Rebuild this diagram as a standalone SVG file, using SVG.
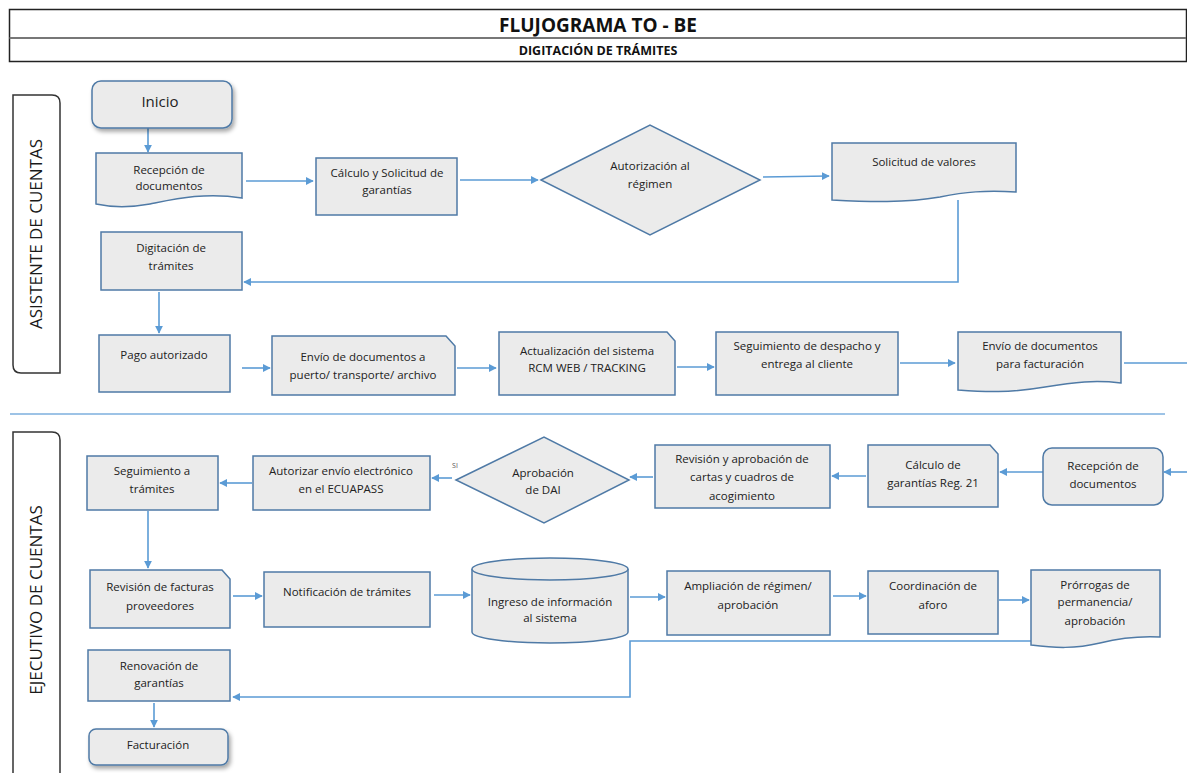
<svg xmlns="http://www.w3.org/2000/svg" width="1187" height="773" viewBox="0 0 1187 773">
  <defs>
    <style>
      .box{fill:#ebebeb;stroke:#4f7aa6;stroke-width:1.5}
      .lane{fill:#fff;stroke:#333;stroke-width:1.5}
      .t{font-family:"Open Sans","Liberation Sans",sans-serif;font-size:11.5px;fill:#222;text-anchor:middle}
      .lt{font-family:"Open Sans","Liberation Sans",sans-serif;font-size:15px;fill:#222;text-anchor:middle}
      .ln{font-family:"Open Sans","Liberation Sans",sans-serif;font-size:17px;fill:#1a1a1a;text-anchor:middle}
      .c{fill:none;stroke:#5b9bd5;stroke-width:1.6}
      .ca{fill:none;stroke:#5b9bd5;stroke-width:1.6;marker-end:url(#ah)}
    </style>
    <marker id="ah" viewBox="0 0 10 10" refX="9" refY="5" markerWidth="5" markerHeight="5" orient="auto">
      <path d="M0,0 L10,5 L0,10 Z" fill="#5b9bd5"/>
    </marker>
    <filter id="sh" x="-10%" y="-10%" width="125%" height="140%">
      <feDropShadow dx="2" dy="3" stdDeviation="2" flood-color="#000" flood-opacity="0.35"/>
    </filter>
  </defs>
  <rect width="1187" height="773" fill="#fff"/>

  <!-- header -->
  <g id="header">
    <rect x="9.5" y="9.5" width="1177" height="52" fill="#fff" stroke="#222" stroke-width="1.5"/>
    <line x1="9.5" y1="38" x2="1186" y2="38" stroke="#777" stroke-width="2"/>
    <text x="598" y="32" font-family="Open Sans,Liberation Sans,sans-serif" font-size="19" font-weight="bold" text-anchor="middle" fill="#111">FLUJOGRAMA TO - BE</text>
    <text x="598" y="55" font-family="Open Sans,Liberation Sans,sans-serif" font-size="12.5" font-weight="bold" text-anchor="middle" fill="#111">DIGITACIÓN DE TRÁMITES</text>
  </g>

  <!-- swimlanes -->
  <g id="lane-asistente">
    <path class="lane" d="M13,95 H52 Q60,95 60,103 V373 H21 Q13,373 13,365 Z"/>
    <text class="ln" transform="translate(42,234) rotate(-90)">ASISTENTE DE CUENTAS</text>
  </g>
  <g id="lane-ejecutivo">
    <path class="lane" d="M13,432 H52 Q60,432 60,440 V775 H13 Z"/>
    <text class="ln" transform="translate(42,600) rotate(-90)">EJECUTIVO DE CUENTAS</text>
  </g>
  <line x1="10" y1="414" x2="1165" y2="414" stroke="#9dc3e6" stroke-width="2"/>

  <!-- connectors -->
  <g id="connectors">
    <line class="ca" x1="148" y1="128" x2="148" y2="152"/>
    <line class="ca" x1="246" y1="181" x2="313" y2="181"/>
    <line class="ca" x1="460" y1="180" x2="538" y2="180"/>
    <line class="ca" x1="763" y1="177" x2="829" y2="176"/>
    <polyline class="ca" points="958,200 958,282 244,282"/>
    <line class="ca" x1="159" y1="292" x2="159" y2="333"/>
    <line class="ca" x1="242" y1="368" x2="270" y2="368"/>
    <line class="ca" x1="457" y1="368" x2="496" y2="368"/>
    <line class="ca" x1="677" y1="367" x2="714" y2="367"/>
    <line class="ca" x1="900" y1="363" x2="955" y2="363"/>
    <line class="c" x1="1124" y1="363" x2="1187" y2="363"/>

    <line class="ca" x1="1187" y1="472" x2="1164" y2="472"/>
    <line class="ca" x1="1043" y1="472" x2="1000" y2="472"/>
    <line class="ca" x1="866" y1="476" x2="832" y2="476"/>
    <line class="ca" x1="653" y1="477" x2="630" y2="477"/>
    <line class="ca" x1="452" y1="478" x2="432" y2="478"/>
    <text x="455" y="468" font-family="Open Sans,Liberation Sans,sans-serif" font-size="7" fill="#555" text-anchor="middle">SI</text>
    <line class="ca" x1="252" y1="483" x2="220" y2="483"/>
    <line class="ca" x1="148" y1="511" x2="148" y2="568"/>
    <line class="ca" x1="233" y1="596" x2="262" y2="596"/>
    <line class="ca" x1="434" y1="595" x2="470" y2="595"/>
    <line class="ca" x1="630" y1="597" x2="665" y2="597"/>
    <line class="ca" x1="833" y1="596" x2="866" y2="596"/>
    <line class="ca" x1="999" y1="600" x2="1029" y2="600"/>
    <polyline class="ca" points="1031,641 630,641 630,697 233,697"/>
    <line class="ca" x1="154" y1="703" x2="154" y2="727"/>
  </g>

  <!-- asistente de cuentas -->
  <g id="n-inicio">
    <rect class="box" x="92" y="81" width="140" height="47" rx="9" filter="url(#sh)"/>
    <text class="lt" x="160" y="107">Inicio</text>
  </g>
  <g id="n-recepcion1">
    <path class="box" d="M96,153 H242 V198 C205,192 175,199 150,204 C128,208 110,207 96,204 Z"/>
    <text class="t" x="169" y="174">Recepción de</text>
    <text class="t" x="169" y="190">documentos</text>
  </g>
  <g id="n-calculo1">
    <rect class="box" x="316" y="158" width="141" height="57"/>
    <text class="t" x="387" y="177">Cálculo y Solicitud de</text>
    <text class="t" x="387" y="194">garantías</text>
  </g>
  <g id="n-autorizacion">
    <polygon class="box" points="541,180 650,125 760,180 650,235"/>
    <text class="t" x="650" y="170">Autorización al</text>
    <text class="t" x="650" y="188">régimen</text>
  </g>
  <g id="n-solicitud">
    <path class="box" d="M832,143 H1016 V192 C985,190 965,192 940,197 C905,203 870,202 832,200 Z"/>
    <text class="t" x="924" y="166">Solicitud de valores</text>
  </g>
  <g id="n-digitacion">
    <rect class="box" x="101" y="232" width="141" height="58"/>
    <text class="t" x="171" y="252">Digitación de</text>
    <text class="t" x="171" y="270">trámites</text>
  </g>
  <g id="n-pago">
    <rect class="box" x="99" y="335" width="131" height="57"/>
    <text class="t" x="164" y="359">Pago autorizado</text>
  </g>
  <g id="n-envio1">
    <path class="box" d="M272,336 H446 L455,346 V395 H272 Z"/>
    <text class="t" x="363" y="361">Envío de documentos a</text>
    <text class="t" x="363" y="379">puerto/ transporte/ archivo</text>
  </g>
  <g id="n-actualizacion">
    <path class="box" d="M499,332 H667 L675,341 V395 H499 Z"/>
    <text class="t" x="587" y="355">Actualización del sistema</text>
    <text class="t" x="587" y="372">RCM WEB / TRACKING</text>
  </g>
  <g id="n-seguimiento1">
    <rect class="box" x="716" y="332" width="182" height="63"/>
    <text class="t" x="807" y="350">Seguimiento de despacho y</text>
    <text class="t" x="807" y="368">entrega al cliente</text>
  </g>
  <g id="n-envio2">
    <path class="box" d="M958,332 H1121 V383 C1095,380 1075,382 1045,387 C1010,393 985,392 958,390 Z"/>
    <text class="t" x="1040" y="350">Envío de documentos</text>
    <text class="t" x="1040" y="368">para facturación</text>
  </g>

  <!-- ejecutivo de cuentas -->
  <g id="n-recepcion2">
    <rect class="box" x="1043" y="448" width="120" height="57" rx="9"/>
    <text class="t" x="1103" y="470">Recepción de</text>
    <text class="t" x="1103" y="488">documentos</text>
  </g>
  <g id="n-calculo2">
    <path class="box" d="M868,445 H990 L998,454 V507 H868 Z"/>
    <text class="t" x="933" y="469">Cálculo de</text>
    <text class="t" x="933" y="487">garantías Reg. 21</text>
  </g>
  <g id="n-revision-cartas">
    <rect class="box" x="655" y="445" width="175" height="63"/>
    <text class="t" x="742" y="463">Revisión y aprobación de</text>
    <text class="t" x="742" y="481">cartas y cuadros de</text>
    <text class="t" x="742" y="500">acogimiento</text>
  </g>
  <g id="n-aprobacion-dai">
    <polygon class="box" points="456,480 544,437 629,480 544,523"/>
    <text class="t" x="543" y="477">Aprobación</text>
    <text class="t" x="543" y="494">de DAI</text>
  </g>
  <g id="n-autorizar">
    <rect class="box" x="253" y="456" width="177" height="54"/>
    <text class="t" x="341" y="475">Autorizar envío electrónico</text>
    <text class="t" x="341" y="493">en el ECUAPASS</text>
  </g>
  <g id="n-seguimiento2">
    <rect class="box" x="87" y="456" width="131" height="54"/>
    <text class="t" x="152" y="475">Seguimiento a</text>
    <text class="t" x="152" y="493">trámites</text>
  </g>
  <g id="n-revision-facturas">
    <path class="box" d="M90,570 H222 L230,579 V628 H90 Z"/>
    <text class="t" x="160" y="591">Revisión de facturas</text>
    <text class="t" x="160" y="610">proveedores</text>
  </g>
  <g id="n-notificacion">
    <rect class="box" x="264" y="572" width="166" height="55"/>
    <text class="t" x="347" y="596">Notificación de trámites</text>
  </g>
  <g id="n-ingreso">
    <path class="box" d="M472,569 A78,11 0 0 1 628,569 V632 A78,11 0 0 1 472,632 Z"/>
    <path class="box" d="M472,569 A78,11 0 0 0 628,569" fill="none"/>
    <text class="t" x="550" y="606">Ingreso de información</text>
    <text class="t" x="550" y="622">al sistema</text>
  </g>
  <g id="n-ampliacion">
    <rect class="box" x="667" y="571" width="163" height="64"/>
    <text class="t" x="748" y="590">Ampliación de régimen/</text>
    <text class="t" x="748" y="609">aprobación</text>
  </g>
  <g id="n-coordinacion">
    <rect class="box" x="868" y="571" width="130" height="63"/>
    <text class="t" x="933" y="590">Coordinación de</text>
    <text class="t" x="933" y="609">aforo</text>
  </g>
  <g id="n-prorrogas">
    <path class="box" d="M1031,570 H1160 V637 C1140,636 1120,638 1100,643 C1075,649 1055,648 1031,645 Z"/>
    <text class="t" x="1095" y="589">Prórrogas de</text>
    <text class="t" x="1095" y="606">permanencia/</text>
    <text class="t" x="1095" y="625">aprobación</text>
  </g>
  <g id="n-renovacion">
    <rect class="box" x="88" y="650" width="142" height="51"/>
    <text class="t" x="159" y="670">Renovación de</text>
    <text class="t" x="159" y="687">garantías</text>
  </g>
  <g id="n-facturacion">
    <rect class="box" x="89" y="729" width="139" height="36" rx="7" filter="url(#sh)"/>
    <text class="t" x="158" y="749">Facturación</text>
  </g>
</svg>
